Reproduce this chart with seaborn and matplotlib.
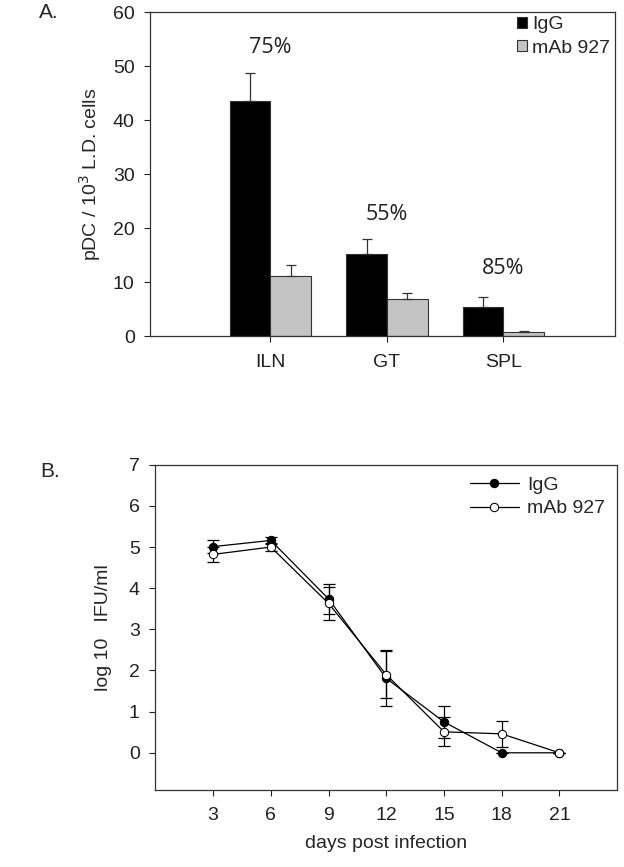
import numpy as np
import pandas as pd
import matplotlib
matplotlib.use("Agg")
import matplotlib.pyplot as plt
import seaborn as sns

# ---- Data panel A ----
tissues = ["ILN", "GT", "SPL"]
igg_pdc = [43.5, 15.3, 5.4]
igg_pdc_err = [5.3, 2.8, 1.8]
mab_pdc = [11.1, 6.9, 0.85]
mab_pdc_err = [2.2, 1.1, 0.2]
reduction_labels = ["75%", "55%", "85%"]
reduction_label_y = [53.5, 22.6, 12.6]
groups = ["IgG", "mAb 927"]

# ---- Data panel B ----
days = [3, 6, 9, 12, 15, 18, 21]
igg_ifu = [5.01, 5.16, 3.74, 1.81, 0.75, 0.0, 0.0]
igg_ifu_err = [0.15, 0.08, 0.37, 0.68, 0.38, 0.0, 0.0]
mab_ifu = [4.82, 5.0, 3.63, 1.90, 0.51, 0.46, 0.0]
mab_ifu_err = [0.19, 0.09, 0.40, 0.57, 0.35, 0.31, 0.0]

sns.set_theme(style="ticks")
plt.rcParams["font.family"] = ["Liberation Sans", "DejaVu Sans"]

fig = plt.figure(figsize=(6.24, 8.67), dpi=100)
axA = fig.add_axes([0.241, 0.612, 0.745, 0.374])
axB = fig.add_axes([0.249, 0.089, 0.740, 0.375])

# ---- Panel A ----
dfA = pd.DataFrame({
    "tissue": tissues * 2,
    "group": [groups[0]] * 3 + [groups[1]] * 3,
    "value": igg_pdc + mab_pdc,
})
sns.barplot(data=dfA, x="tissue", y="value", hue="group", order=tissues,
            hue_order=groups, palette=["#000000", "#c4c4c4"], width=0.7,
            errorbar=None, ax=axA, edgecolor="#333333", linewidth=0.8,
            saturation=1)
patches = list(axA.patches)[:6]
errs = igg_pdc_err + mab_pdc_err
vals = igg_pdc + mab_pdc
for p, v, e in zip(patches, vals, errs):
    cx = p.get_x() + p.get_width() / 2
    axA.errorbar([cx], [v], yerr=[[0], [e]], fmt="none", ecolor="#333333",
                 elinewidth=0.9, capsize=3.5, capthick=0.9, zorder=1)
for i, (lab, y) in enumerate(zip(reduction_labels, reduction_label_y)):
    axA.text(i, y, lab, ha="center", va="center", fontsize=15.5,
             family=["Open Sans", "DejaVu Sans"], color="#222222")
axA.set_xlim(-1.03, 2.96)
axA.set_ylim(0, 60)
axA.set_yticks([0, 10, 20, 30, 40, 50, 60])
axA.set_xlabel("")
axA.set_ylabel("pDC / 10$^3$ L.D. cells", fontsize=14, labelpad=7)
axA.tick_params(labelsize=14, direction="out", length=4.3, width=0.8, colors="#222222")
axA.tick_params(axis="y", pad=7)
axA.tick_params(axis="x", pad=8.5)
for s in axA.spines.values():
    s.set_visible(True)
    s.set_linewidth(0.9)
    s.set_color("#333333")
axA.legend(loc="upper right", bbox_to_anchor=(1.005, 1.012), fontsize=14,
           frameon=False, handlelength=0.5, handleheight=0.5, handletextpad=0.25,
           borderaxespad=0.0, labelspacing=0.35)
axA.text(-0.24, 1.0, "A.", transform=axA.transAxes, fontsize=15, va="center", ha="left")

# ---- Panel B ----
dfB = pd.DataFrame({
    "day": days * 2,
    "value": igg_ifu + mab_ifu,
    "group": [groups[0]] * len(days) + [groups[1]] * len(days),
})
axB.errorbar(days, igg_ifu, yerr=igg_ifu_err, fmt="none", ecolor="black",
             elinewidth=0.9, capsize=4.3, capthick=0.9, zorder=1)
axB.errorbar(days, mab_ifu, yerr=mab_ifu_err, fmt="none", ecolor="black",
             elinewidth=0.9, capsize=4.3, capthick=0.9, zorder=1)
sns.lineplot(data=dfB[dfB.group == groups[0]], x="day", y="value", ax=axB,
             color="black", linewidth=0.9, marker="o", markersize=6,
             markerfacecolor="black", markeredgecolor="black", label=groups[0],
             zorder=3)
sns.lineplot(data=dfB[dfB.group == groups[1]], x="day", y="value", ax=axB,
             color="black", linewidth=0.9, marker="o", markersize=6,
             markerfacecolor="white", markeredgecolor="black", label=groups[1],
             zorder=4)
axB.set_xlim(0, 24)
axB.set_ylim(-0.9, 7)
axB.set_xticks(days)
axB.set_yticks(range(0, 8))
axB.set_xlabel("days post infection", fontsize=14, labelpad=8)
axB.set_ylabel("log 10   IFU/ml", fontsize=14, labelpad=12)
axB.tick_params(labelsize=14, direction="out", length=4.3, width=0.8, colors="#222222")
axB.tick_params(axis="y", pad=7)
axB.tick_params(axis="x", pad=8)
for s in axB.spines.values():
    s.set_visible(True)
    s.set_linewidth(0.9)
    s.set_color("#333333")
axB.legend(loc="upper right", fontsize=14, frameon=False, handlelength=2.5,
           handletextpad=0.45, borderaxespad=0.2, labelspacing=0.3)
axB.text(-0.25, 0.98, "B.", transform=axB.transAxes, fontsize=15, va="center", ha="left")

fig.savefig("out.png", dpi=100)
